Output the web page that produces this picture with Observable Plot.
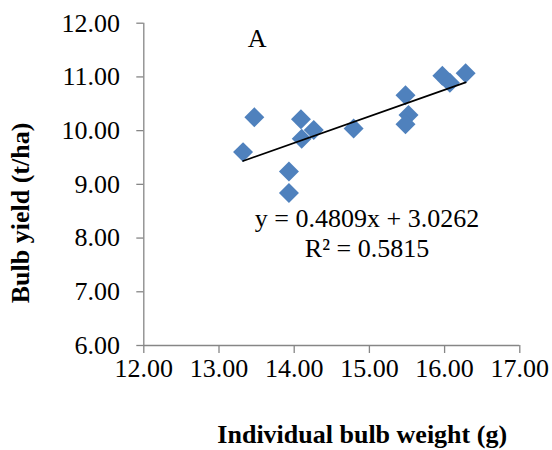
<!DOCTYPE html>
<html>
<head>
<meta charset="utf-8">
<script src="https://cdn.jsdelivr.net/npm/d3@7"></script>
<script src="https://cdn.jsdelivr.net/npm/@observablehq/plot@0.6"></script>
<style>
  html, body { margin: 0; padding: 0; background: white; }
  #chart svg, #chart svg text { font-family: "Liberation Serif", "Times New Roman", serif !important; }
</style>
</head>
<body>
<div id="chart"></div>
<script>
// Data
const bulbWeight = [13.32, 13.47, 14.09, 14.10, 14.26, 13.93, 13.93, 14.79, 15.48, 15.52, 15.48, 15.97, 16.07, 16.28];
const bulbYield  = [9.60, 10.25, 10.21, 9.85, 10.01, 9.24, 8.84, 10.04, 10.66, 10.29, 10.12, 11.02, 10.89, 11.07];
const xTicks = [12, 13, 14, 15, 16, 17];
const yTicks = [6, 7, 8, 9, 10, 11, 12];
const panelLabel = ["A"];
const equationText = ["y = 0.4809x + 3.0262\nR² = 0.5815"];
const xTitle = ["Individual bulb weight (g)"];
const yTitle = ["Bulb yield (t/ha)"];

const points = bulbWeight.map((w, i) => ({w, yld: bulbYield[i]}));
const axisColor = "#868686";
const serif = "Liberation Serif";
const fmt = d3.format(".2f");

const chart = Plot.plot({
  width: 552,
  height: 450,
  marginLeft: 143.3,
  marginRight: 32.7,
  marginTop: 22.7,
  marginBottom: 105,
  style: {fontFamily: serif, fontSize: "26px", color: "black", background: "white"},
  x: {domain: [12, 17]},
  y: {domain: [6, 12]},
  marks: [
    Plot.ruleX([12], {stroke: axisColor, strokeWidth: 1.3}),
    Plot.ruleY([6], {stroke: axisColor, strokeWidth: 1.3}),
    // tick marks from the library's axes (labels drawn below as text)
    Plot.axisX({ticks: xTicks, tickSize: 8, stroke: axisColor, strokeWidth: 1.3, fill: "none", label: null}),
    Plot.axisY({ticks: yTicks, tickSize: 7, stroke: axisColor, strokeWidth: 1.3, fill: "none", label: null}),
    // tick labels
    Plot.text(xTicks, {x: d => d, text: d => fmt(d), frameAnchor: "bottom", dy: 31.7, lineAnchor: "bottom", textAnchor: "middle", fontSize: 26, fontFamily: serif, fill: "black"}),
    Plot.text(yTicks, {y: d => d, text: d => fmt(d), frameAnchor: "left", dx: -23.7, lineAnchor: "middle", textAnchor: "end", fontSize: 26, fontFamily: serif, fill: "black"}),
    Plot.dot(points, {x: "w", y: "yld", symbol: "diamond2", r: 9, fill: "#4F81BD", stroke: "none"}),
    Plot.linearRegressionY(points, {x: "w", y: "yld", ci: 0, stroke: "black", strokeWidth: 1.7}),
    Plot.text(panelLabel, {frameAnchor: "top-left", dx: 113.4, dy: 24, lineAnchor: "bottom", textAnchor: "middle", fontSize: 26, fontFamily: serif, fill: "black"}),
    Plot.text(equationText, {frameAnchor: "top-left", dx: 223.2, dy: 234, lineAnchor: "bottom", textAnchor: "middle", lineHeight: 30 / 26, fontSize: 26, fontFamily: serif, fill: "black"}),
    Plot.text(xTitle, {frameAnchor: "bottom", dx: 30.4, dy: 97, lineAnchor: "bottom", textAnchor: "middle", fontSize: 26, fontFamily: serif, fontWeight: "bold", fill: "black"}),
    Plot.text(yTitle, {frameAnchor: "left", dx: -123, dy: 28.6, rotate: -90, lineAnchor: "middle", textAnchor: "middle", fontSize: 26, fontFamily: serif, fontWeight: "bold", fill: "black"})
  ]
});
document.getElementById("chart").appendChild(chart);
</script>
</body>
</html>
